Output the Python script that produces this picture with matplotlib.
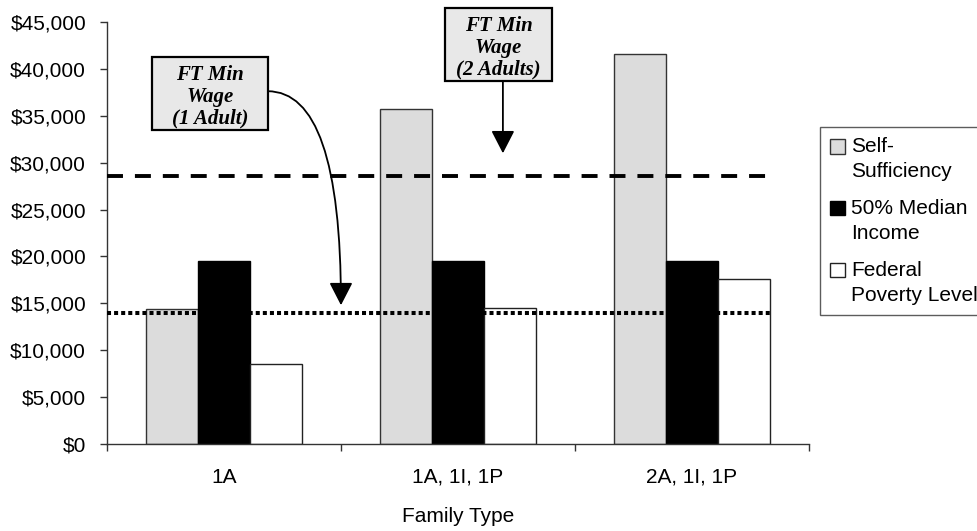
import numpy as np
import matplotlib.pyplot as plt
from matplotlib.patches import Rectangle
from matplotlib.container import BarContainer
from matplotlib.legend_handler import HandlerPatch
from matplotlib.ticker import FuncFormatter

categories = ["1A", "1A, 1I, 1P", "2A, 1I, 1P"]
self_sufficiency = [14400, 35700, 41600]
median_income_50 = [19500, 19500, 19500]
poverty_level = [8500, 14500, 17600]
series_labels = ["Self-\nSufficiency", "50% Median\nIncome", "Federal\nPoverty Level"]
min_wage_1_adult = 14000
min_wage_2_adults = 28600
note_1 = "FT Min\nWage\n(1 Adult)"
note_2 = "FT Min\nWage\n(2 Adults)"

plt.rcParams['font.family'] = ['Liberation Sans', 'DejaVu Sans']
plt.rcParams['font.size'] = 15
plt.rcParams['lines.scale_dashes'] = False

fig = plt.figure(figsize=(9.77, 5.31), dpi=100)
ax = fig.add_axes([0.1095, 0.1638, 0.7185, 0.7948])

x = np.arange(len(categories))
w = 0.222
ax.bar(x - w, self_sufficiency, w, color='#dcdcdc', edgecolor='#333333', linewidth=1, label=series_labels[0])
ax.bar(x, median_income_50, w, color='black', edgecolor='black', linewidth=1, label=series_labels[1])
ax.bar(x + w, poverty_level, w, color='white', edgecolor='#222222', linewidth=1, label=series_labels[2])

# minimum wage reference lines, drawn over the bars
line_end = x[-1] + 1.5 * w
ax.plot([-0.5, line_end], [min_wage_2_adults] * 2, color='black', lw=2.8,
        dashes=(11.5, 8.6), dash_capstyle='butt', zorder=5)
ax.plot([-0.5, line_end], [min_wage_1_adult] * 2, color='black', lw=2.9,
        dashes=(2.9, 2.2), dash_capstyle='butt', zorder=5)

ax.set_xlim(-0.5, 2.5)
ax.set_ylim(0, 45000)
ax.set_yticks(np.arange(0, 45001, 5000))
ax.yaxis.set_major_formatter(FuncFormatter(lambda v, p: "${:,.0f}".format(v)))
ax.set_xticks(x)
ax.set_xticklabels(categories)
ax.set_xticks([-0.5, 0.5, 1.5, 2.5], minor=True)
ax.tick_params(axis='x', which='major', length=0, pad=17)
ax.tick_params(axis='x', which='minor', length=5, width=1, color='#333333')
ax.tick_params(axis='y', length=5, width=1, pad=10, color='#333333')
ax.set_xlabel("Family Type", labelpad=15)

for s in ['top', 'right']:
    ax.spines[s].set_visible(False)
for s in ['left', 'bottom']:
    ax.spines[s].set_color('#333333')
    ax.spines[s].set_linewidth(1)

# callout boxes
note_font = dict(family='Liberation Serif', weight='bold', style='italic', size=15)
ax.add_patch(Rectangle((0.064, 0.744), 0.165, 0.173, transform=ax.transAxes,
                       facecolor='#e8e8e8', edgecolor='black', lw=1.6, clip_on=False, zorder=6))
ax.text(0.147, 0.822, note_1, transform=ax.transAxes, ha='center', va='center',
        linespacing=1.12, zorder=7, **note_font)
ax.add_patch(Rectangle((0.481, 0.860), 0.153, 0.173, transform=ax.transAxes,
                       facecolor='#e8e8e8', edgecolor='black', lw=1.6, clip_on=False, zorder=6))
ax.text(0.558, 0.938, note_2, transform=ax.transAxes, ha='center', va='center',
        linespacing=1.12, zorder=7, **note_font)

arrow = dict(arrowstyle='-|>,head_length=0.7,head_width=0.36', mutation_scale=20,
             color='black', lw=1.3, shrinkA=0, shrinkB=0)
ax.annotate('', xy=(0.5, 14800), xycoords='data', xytext=(0.229, 0.836),
            textcoords='axes fraction', annotation_clip=False,
            arrowprops=dict(connectionstyle='angle3,angleA=0,angleB=90', **arrow))
ax.annotate('', xy=(1.192, 31000), xycoords='data', xytext=(0.564, 0.860),
            textcoords='axes fraction', annotation_clip=False, arrowprops=arrow)


# legend swatch sits beside the first line of each two-line label
def top_swatch(legend, orig_handle, xdescent, ydescent, width, height, fontsize):
    return Rectangle((-xdescent, -ydescent + 9.5), width, height)


def copy_bar_style(legend_handle, orig_handle):
    legend_handle.update_from(orig_handle.patches[0])


leg = fig.legend(loc='upper left', bbox_to_anchor=(820 / 977, 1 - 127 / 531),
                 fontsize=15, frameon=True, fancybox=False, edgecolor='#333333',
                 borderpad=0.5, handlelength=0.7, handleheight=0.7, handletextpad=0.3,
                 labelspacing=0.85, borderaxespad=0,
                 handler_map={BarContainer: HandlerPatch(patch_func=top_swatch,
                                                         update_func=copy_bar_style)})
leg.get_frame().set_linewidth(1)
for t in leg.get_texts():
    t.set_linespacing(1.4)

fig.savefig("out.png", dpi=100)
